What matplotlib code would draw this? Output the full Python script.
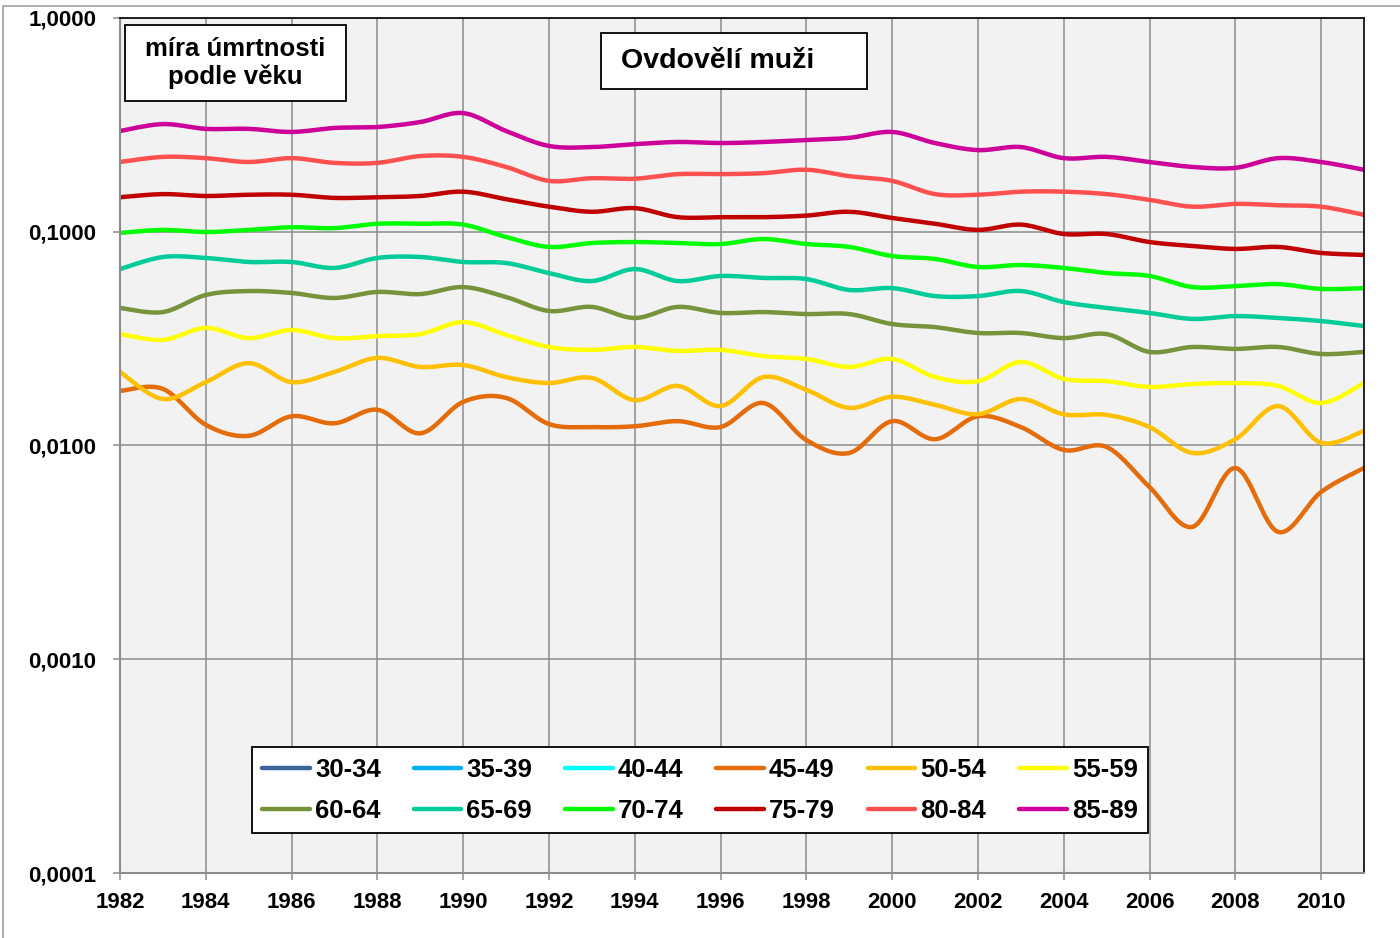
import numpy as np
import matplotlib
matplotlib.use('Agg')
import matplotlib.pyplot as plt
import matplotlib.ticker as mticker
from matplotlib.patches import Rectangle

plt.rcParams['font.family'] = ['Liberation Sans', 'DejaVu Sans']
plt.rcParams['font.weight'] = 'bold'

years = list(range(1982, 2012))

labels = ['30-34', '35-39', '40-44', '45-49', '50-54', '55-59',
          '60-64', '65-69', '70-74', '75-79', '80-84', '85-89']
colors = ['#3A6398', '#00B0F0', '#00FFFF', '#E46C0A', '#FFC000', '#FFFF00',
          '#77933C', '#00CC99', '#00FF00', '#C00000', '#FF5050', '#CC0099']

# no values shown for the youngest groups
m30_34 = []
m35_39 = []
m40_44 = []
m45_49 = [0.0180, 0.0184, 0.0125, 0.0111, 0.0137, 0.0127, 0.0147, 0.0114, 0.0160, 0.0167,
          0.0126, 0.0122, 0.0123, 0.0130, 0.0122, 0.0158, 0.0106, 0.00923, 0.0130, 0.0107,
          0.0137, 0.0122, 0.00953, 0.00984, 0.00639, 0.00416, 0.00785, 0.00394, 0.00606, 0.00785]
m50_54 = [0.0221, 0.0165, 0.0198, 0.0243, 0.0198, 0.0221, 0.0257, 0.0233, 0.0238, 0.0209,
          0.0196, 0.0207, 0.0163, 0.0190, 0.0153, 0.0209, 0.0182, 0.0150, 0.0169, 0.0155,
          0.0140, 0.0165, 0.0140, 0.0139, 0.0122, 0.00923, 0.0107, 0.0153, 0.0103, 0.0117]
m55_59 = [0.0332, 0.0312, 0.0355, 0.0318, 0.0347, 0.0318, 0.0325, 0.0332, 0.0378, 0.0329,
          0.0289, 0.0280, 0.0289, 0.0277, 0.0280, 0.0262, 0.0254, 0.0233, 0.0254, 0.0209,
          0.0200, 0.0246, 0.0205, 0.0200, 0.0188, 0.0194, 0.0196, 0.0190, 0.0158, 0.0196]
m60_64 = [0.0440, 0.0421, 0.0506, 0.0528, 0.0517, 0.0490, 0.0523, 0.0511, 0.0551, 0.0495,
          0.0426, 0.0445, 0.0395, 0.0445, 0.0417, 0.0421, 0.0412, 0.0412, 0.0370, 0.0358,
          0.0336, 0.0336, 0.0318, 0.0332, 0.0274, 0.0289, 0.0283, 0.0289, 0.0268, 0.0274]
m65_69 = [0.0669, 0.0762, 0.0754, 0.0722, 0.0722, 0.0677, 0.0754, 0.0762, 0.0722, 0.0714,
          0.0641, 0.0588, 0.0669, 0.0588, 0.0621, 0.0608, 0.0601, 0.0534, 0.0545, 0.0500,
          0.0500, 0.0528, 0.0469, 0.0440, 0.0417, 0.0391, 0.0403, 0.0395, 0.0382, 0.0362]
m70_74 = [0.0987, 0.102, 0.0997, 0.102, 0.105, 0.104, 0.109, 0.109, 0.108, 0.0945,
          0.0849, 0.0886, 0.0895, 0.0886, 0.0876, 0.0925, 0.0876, 0.0849, 0.0770, 0.0746,
          0.0684, 0.0699, 0.0677, 0.0641, 0.0621, 0.0551, 0.0557, 0.0569, 0.0540, 0.0545]
m75_79 = [0.145, 0.150, 0.147, 0.149, 0.149, 0.144, 0.145, 0.147, 0.154, 0.142,
          0.131, 0.124, 0.129, 0.117, 0.117, 0.117, 0.119, 0.124, 0.116, 0.109,
          0.102, 0.108, 0.0976, 0.0976, 0.0895, 0.0858, 0.0831, 0.0849, 0.0796, 0.0779]
m80_84 = [0.212, 0.224, 0.221, 0.212, 0.221, 0.210, 0.210, 0.226, 0.224, 0.201,
          0.173, 0.178, 0.177, 0.186, 0.186, 0.188, 0.195, 0.182, 0.173, 0.150,
          0.149, 0.154, 0.154, 0.150, 0.141, 0.131, 0.135, 0.133, 0.131, 0.120]
m85_89 = [0.296, 0.319, 0.303, 0.303, 0.293, 0.306, 0.309, 0.326, 0.359, 0.296,
          0.252, 0.249, 0.257, 0.263, 0.260, 0.263, 0.269, 0.275, 0.293, 0.260,
          0.241, 0.249, 0.221, 0.224, 0.212, 0.201, 0.199, 0.221, 0.212, 0.195]

series = [m30_34, m35_39, m40_44, m45_49, m50_54, m55_59,
          m60_64, m65_69, m70_74, m75_79, m80_84, m85_89]


def smooth(x, y, n=16):
    # excel-like smoothed line: bezier through the points, in log space
    if len(y) == 0:
        return [], []
    x = np.asarray(x, float)
    ly = np.log10(np.asarray(y, float))
    px = np.concatenate([[x[0]], x, [x[-1]]])
    py = np.concatenate([[ly[0]], ly, [ly[-1]]])
    t = np.linspace(0, 1, n, endpoint=False)[:, None]
    out = []
    for i in range(len(x) - 1):
        p0 = np.array([px[i], py[i]])
        p1 = np.array([px[i + 1], py[i + 1]])
        p2 = np.array([px[i + 2], py[i + 2]])
        p3 = np.array([px[i + 3], py[i + 3]])
        c1 = p1 + (p2 - p0) / 6
        c2 = p2 - (p3 - p1) / 6
        b = ((1 - t) ** 3) * p1 + 3 * ((1 - t) ** 2) * t * c1 + 3 * (1 - t) * t ** 2 * c2 + t ** 3 * p2
        out.append(b)
    out.append(np.array([[x[-1], ly[-1]]]))
    out = np.vstack(out)
    return out[:, 0], 10 ** out[:, 1]


W, H = 1400, 938
fig = plt.figure(figsize=(14, 9.38), dpi=100)
fig.patch.set_facecolor('white')
ax = fig.add_axes([120 / W, 1 - 873 / H, (1364 - 120) / W, (873 - 18) / H])
ax.set_facecolor('#F2F2F2')

# outer chart frame
fig.patches.append(Rectangle((3 / W, -0.05), 1.1, 1 - 6 / H + 0.05, transform=fig.transFigure,
                             fill=False, edgecolor='#A0A0A0', linewidth=1.2))

handles = []
for lab, col, vals in zip(labels, colors, series):
    xs, ys = smooth(years[:len(vals)], vals)
    h, = ax.plot(xs, ys, color=col, linewidth=3.2, label=lab, solid_capstyle='round')
    handles.append(h)

ax.set_yscale('log')
ax.set_ylim(0.0001, 1)
ax.set_xlim(1982, 2011)
ax.set_yticks([0.0001, 0.001, 0.01, 0.1, 1])
ax.yaxis.set_minor_locator(mticker.NullLocator())
ax.yaxis.set_major_formatter(mticker.FuncFormatter(lambda v, p: f'{v:.4f}'.replace('.', ',')))
ax.set_xticks(range(1982, 2011, 2))

ax.grid(True, color='#8C8C8C', linewidth=1.1)
ax.set_axisbelow(True)
ax.tick_params(axis='both', colors='#8C8C8C', labelcolor='black', labelsize=16,
               length=5, width=1.1, direction='out')
ax.tick_params(axis='y', pad=12)
ax.tick_params(axis='x', pad=9)
for lbl in ax.get_xticklabels() + ax.get_yticklabels():
    lbl.set_fontweight('bold')

for s in ['left', 'bottom']:
    ax.spines[s].set_color('#8C8C8C')
    ax.spines[s].set_linewidth(1.5)
for s in ['top', 'right']:
    ax.spines[s].set_color('black')
    ax.spines[s].set_linewidth(1.2)

# legend filled row by row
order = [0, 6, 1, 7, 2, 8, 3, 9, 4, 10, 5, 11]
leg = ax.legend([handles[i] for i in order], [labels[i] for i in order], ncol=6,
                loc='lower left', bbox_to_anchor=(252 / W, 1 - 833 / H), bbox_transform=fig.transFigure,
                borderaxespad=0, fancybox=False, frameon=True, framealpha=1,
                prop={'size': 18.5, 'weight': 'bold'}, handlelength=1.85, handletextpad=0.2,
                columnspacing=1.28, labelspacing=0.66, borderpad=0.4)
leg.get_frame().set_edgecolor('black')
leg.get_frame().set_linewidth(1.3)

# text boxes
fig.patches.append(Rectangle((125 / W, 1 - 101 / H), 221 / W, 76 / H, transform=fig.transFigure,
                             facecolor='white', edgecolor='black', linewidth=1.3, zorder=5))
fig.text(235.5 / W, 1 - 63 / H, 'míra úmrtnosti\npodle věku', ha='center', va='center',
         fontsize=18.5, fontweight='bold', linespacing=1.2, zorder=6)
fig.patches.append(Rectangle((601 / W, 1 - 89 / H), 266 / W, 56 / H, transform=fig.transFigure,
                             facecolor='white', edgecolor='black', linewidth=1.3, zorder=5))
fig.text(718 / W, 1 - 61 / H, 'Ovdovělí muži', ha='center', va='center',
         fontsize=20.5, fontweight='bold', zorder=6)

fig.savefig('out.png', dpi=100)
